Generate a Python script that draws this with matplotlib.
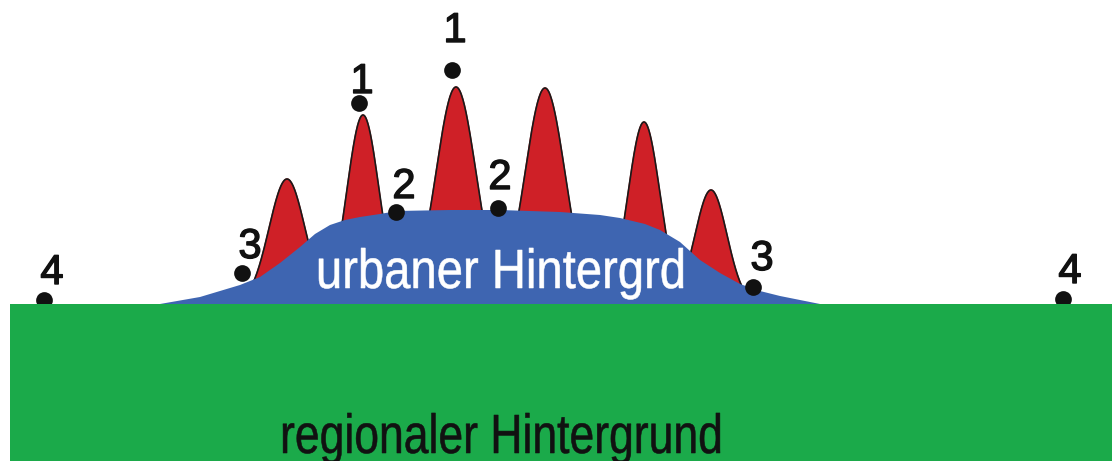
import matplotlib.pyplot as plt
import matplotlib.patheffects as pe
import numpy as np
from matplotlib.textpath import TextPath
from matplotlib.patches import PathPatch, Rectangle
from matplotlib.font_manager import FontProperties
from matplotlib.transforms import Affine2D

# picture is drawn in pixel coordinates (y downwards)
W, H = 1112, 461
GROUND = 304

# red peaks: centre, top, width
peak_x = [287, 363, 456, 545, 644, 711]
peak_top = [179, 115, 87, 88, 122, 190]
peak_w = [18, 16, 20, 20, 16, 16]

# blue hill outline
hill_x = [160, 200, 240, 260, 280, 300, 315, 330, 345, 360, 380, 397, 450, 500,
          560, 600, 620, 645, 660, 680, 700, 720, 740, 760, 780, 800, 820]
hill_y = [304, 297, 285, 277, 263, 247, 234, 225, 220, 217, 214, 211, 210, 210,
          212, 215, 218, 224, 230, 242, 260, 273, 284, 291, 296, 300, 304]

# measuring points and their labels
pt_x = [44, 242, 359, 452, 396, 498, 753, 1063]
pt_y = [300, 273, 103, 70, 212, 208, 287, 299]
lab = ["4", "3", "1", "1", "2", "2", "3", "4"]
lab_x = [52, 250, 362, 455, 404, 500, 762, 1070]
lab_y = [284, 258, 93, 42, 198, 189, 270, 283]

FONT = FontProperties(family="Liberation Sans")


def fitted_text(ax, s, x0, x1, cap, base, color):
    tp = TextPath((0, 0), s, size=1, prop=FONT)
    ext = tp.get_extents()
    hcap = TextPath((0, 0), "H", size=1, prop=FONT).get_extents().y1
    sx = (x1 - x0) / ext.width
    sy = cap / hcap
    tr = Affine2D().translate(-ext.x0, 0).scale(sx, -sy).translate(x0, base)
    ax.add_patch(PathPatch(tr.transform_path(tp), fc=color, ec=color, lw=0.4, zorder=6))


fig = plt.figure(figsize=(W / 100, H / 100), dpi=100)
ax = fig.add_axes([0, 0, 1, 1])
ax.set_xlim(0, W)
ax.set_ylim(H, 0)
ax.axis("off")

for c, t, w in zip(peak_x, peak_top, peak_w):
    xs = np.linspace(c - 4 * w, c + 4 * w, 200)
    ys = GROUND - (GROUND - t) * np.exp(-(xs - c) ** 2 / (2 * w ** 2))
    ax.fill(xs, ys, color="#CF2027", zorder=1)
    ax.plot(xs, ys, color="#1a1a1a", lw=1.2, zorder=1.5)

ax.fill(hill_x, hill_y, color="#3E65B1", lw=0, zorder=2)

ax.scatter(pt_x, pt_y, s=145, color="#111111", zorder=3, linewidths=0)

ax.add_patch(Rectangle((10, GROUND), W - 10, H - GROUND, color="#1BAA4A", lw=0, zorder=4))

for s, x, y in zip(lab, lab_x, lab_y):
    ax.text(x, y, s, fontsize=30, family="Liberation Sans", ha="center",
            va="baseline", color="#111111", zorder=6,
            path_effects=[pe.withStroke(linewidth=1.0, foreground="#111111")])

fitted_text(ax, "urbaner Hintergrd", 319, 683, 38, 288, "white")
fitted_text(ax, "regionaler Hintergrund", 283, 720, 38, 453, "#111111")

fig.savefig("out.png", dpi=100)
